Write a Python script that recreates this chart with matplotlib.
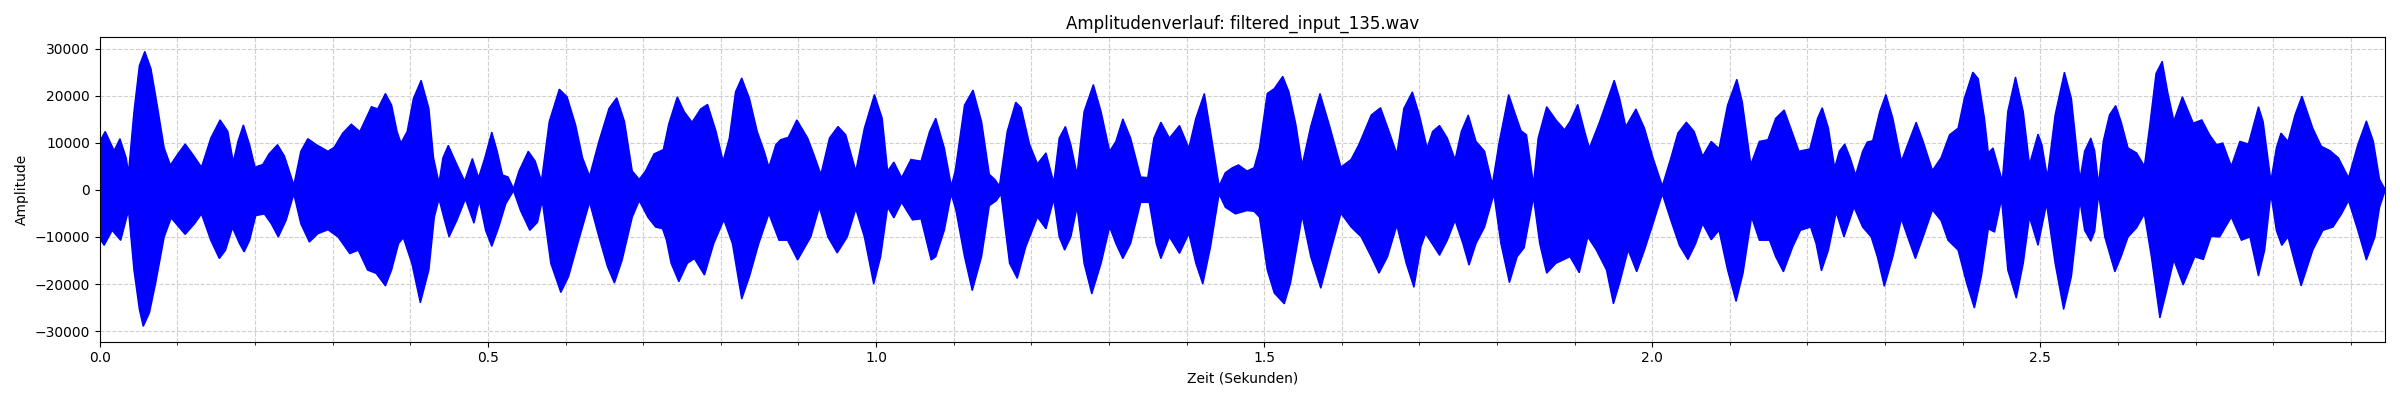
import matplotlib
matplotlib.use("Agg")
import matplotlib.pyplot as plt
import numpy as np
from matplotlib.ticker import MultipleLocator

# Envelope of the waveform (seconds, amplitude)
upper_time = [
    0.0, 0.007, 0.0185, 0.026, 0.034, 0.037, 0.044, 0.051, 0.058, 0.066, 0.074, 0.083, 0.091,
    0.1, 0.11, 0.12, 0.131, 0.143, 0.155, 0.165, 0.172, 0.178, 0.185, 0.193, 0.2, 0.21, 0.218,
    0.229, 0.238, 0.25, 0.259, 0.268, 0.279, 0.294, 0.302, 0.313, 0.324, 0.335, 0.35, 0.358,
    0.368, 0.376, 0.383, 0.388, 0.396, 0.404, 0.414, 0.424, 0.43, 0.437, 0.442, 0.449, 0.46,
    0.47, 0.48, 0.488, 0.496, 0.505, 0.512, 0.519, 0.526, 0.533, 0.54, 0.552, 0.561, 0.569,
    0.579, 0.592, 0.602, 0.613, 0.622, 0.631, 0.643, 0.656, 0.666, 0.676, 0.686, 0.695, 0.703,
    0.714, 0.726, 0.733, 0.744, 0.753, 0.763, 0.774, 0.783, 0.794, 0.803, 0.811, 0.819, 0.827,
    0.837, 0.847, 0.856, 0.862, 0.871, 0.877, 0.887, 0.898, 0.912, 0.92, 0.929, 0.94, 0.951,
    0.961, 0.974, 0.985, 0.998, 1.008, 1.015, 1.023, 1.033, 1.045, 1.058, 1.069, 1.077, 1.088,
    1.097, 1.102, 1.114, 1.125, 1.136, 1.146, 1.153, 1.159, 1.169, 1.18, 1.187, 1.198, 1.208,
    1.219, 1.229, 1.236, 1.244, 1.251, 1.259, 1.268, 1.28, 1.29, 1.301, 1.309, 1.318, 1.328,
    1.341, 1.35, 1.358, 1.367, 1.378, 1.391, 1.403, 1.412, 1.423, 1.433, 1.442, 1.45, 1.459,
    1.467, 1.478, 1.487, 1.494, 1.504, 1.513, 1.524, 1.532, 1.541, 1.549, 1.56, 1.572, 1.584,
    1.599, 1.612, 1.622, 1.638, 1.65, 1.661, 1.671, 1.68, 1.691, 1.7, 1.71, 1.717, 1.726,
    1.736, 1.746, 1.754, 1.763, 1.773, 1.784, 1.794, 1.803, 1.815, 1.824, 1.831, 1.838, 1.847,
    1.853, 1.864, 1.876, 1.887, 1.894, 1.904, 1.913, 1.919, 1.932, 1.951, 1.958, 1.966, 1.979,
    1.99, 2.001, 2.013, 2.024, 2.033, 2.044, 2.054, 2.065, 2.076, 2.086, 2.097, 2.109, 2.116,
    2.127, 2.138, 2.149, 2.159, 2.17, 2.183, 2.189, 2.203, 2.213, 2.219, 2.227, 2.235, 2.241,
    2.248, 2.255, 2.262, 2.271, 2.277, 2.284, 2.293, 2.301, 2.31, 2.321, 2.329, 2.34, 2.349,
    2.361, 2.372, 2.383, 2.394, 2.402, 2.413, 2.42, 2.428, 2.433, 2.439, 2.445, 2.451, 2.458,
    2.468, 2.478, 2.486, 2.497, 2.502, 2.509, 2.519, 2.531, 2.54, 2.551, 2.557, 2.565, 2.57,
    2.575, 2.581, 2.589, 2.597, 2.604, 2.613, 2.624, 2.634, 2.641, 2.649, 2.657, 2.664, 2.672,
    2.683, 2.697, 2.708, 2.718, 2.727, 2.735, 2.746, 2.757, 2.768, 2.781, 2.787, 2.797, 2.804,
    2.81, 2.819, 2.828, 2.837, 2.851, 2.862, 2.873, 2.884, 2.897, 2.909, 2.92, 2.929, 2.937,
    2.944,
]
upper_amp = [
    10300, 12400, 8340, 10870, 6800, 3650, 16600, 26400, 29400, 25700, 18000, 8900, 5260,
    7500, 9740, 7500, 4840, 11000, 14860, 12400, 5960, 10300, 13800, 9600, 4840, 5400, 7640,
    9600, 7150, 1050, 8200, 10870, 9600, 8200, 9040, 12060, 13950, 12400, 17660, 17200,
    20470, 18000, 12400, 9950, 12400, 19400, 23270, 17300, 6800, 1540, 6800, 9460, 5400,
    1890, 6660, 2590, 6800, 12270, 8200, 3150, 2730, 300, 4000, 8200, 6100, 1890,
    14510, 21380, 19770, 13800, 6800, 2940, 10300, 17300, 19560, 14510, 4000, 2240, 4000,
    7640, 8550, 14000, 19770, 16600, 14370, 17170, 18150, 12400, 6100, 11000, 20800, 23760,
    19400, 12400, 8200, 4840, 9600, 10650, 11150, 14860, 11000, 7500, 3300, 11000, 13460,
    11700, 4000, 13100, 20260, 15200, 4000, 5900, 2600, 6450, 6100, 12400, 15200, 8900,
    840, 4000, 18000, 21200, 14500, 3300, 2240, 840, 12400, 18600, 17450, 9600, 5540,
    7850, 1540, 11000, 13460, 9600, 3300, 16600, 22360, 16600, 8200, 10300, 15070, 11000,
    2730, 2600, 11000, 14370, 11000, 13670, 8900, 15200, 20470, 10300, 840, 3650, 4700,
    5300, 4000, 4700, 8900, 20470, 21500, 24100, 20800, 13800, 5260, 13460, 20470, 13800,
    4840, 6450, 9600, 15900, 17450, 12400, 7640, 17300, 20800, 15900, 8900, 12400, 13670,
    11000, 6450, 12400, 15900, 10300, 8200, 1200, 10300, 20260, 15900, 12550, 11700, 1200,
    11000, 17660, 14860, 12760, 14500, 18150, 12400, 8900, 14370, 23270, 19400, 13460, 17170,
    13100, 6800, 840, 6800, 12060, 14370, 12400, 7150, 10300, 8760, 18000, 23480, 18700,
    5400, 10300, 10650, 15200, 16960, 11000, 8200, 8700, 15200, 17450, 13100, 4700, 8200,
    9740, 6800, 3150, 8200, 10160, 10440, 16600, 20260, 15200, 6100, 9600, 14370, 10300,
    4140, 6800, 11700, 13100, 19400, 25000, 23600, 15200, 7850, 8900, 5400, 1900, 16600,
    23970, 16600, 5400, 11850, 9600, 2730, 15900, 25000, 19400, 2240, 8200, 11000, 8300,
    1200, 10300, 15900, 17900, 14500, 8900, 7850, 5050, 13800, 24700, 27300, 20800, 14650,
    19770, 14160, 14860, 11700, 9600, 9950, 5050, 10300, 9740, 17660, 14510, 1890, 8900,
    12060, 10300, 15900, 19900, 13100, 9250, 8340, 6800, 2600, 9600, 14650, 10300, 2240,
    140,
]

lower_time = [
    0.0, 0.0056, 0.016, 0.027, 0.037, 0.044, 0.051, 0.056, 0.064, 0.072, 0.083, 0.092,
    0.102, 0.11, 0.122, 0.131, 0.143, 0.154, 0.162, 0.171, 0.18, 0.186, 0.193, 0.201, 0.212,
    0.221, 0.23, 0.24, 0.25, 0.259, 0.27, 0.281, 0.294, 0.307, 0.322, 0.333, 0.345, 0.356,
    0.368, 0.376, 0.385, 0.391, 0.402, 0.413, 0.424, 0.431, 0.437, 0.443, 0.45, 0.46, 0.471,
    0.482, 0.489, 0.497, 0.505, 0.514, 0.523, 0.533, 0.542, 0.554, 0.564, 0.57, 0.581, 0.594,
    0.604, 0.617, 0.631, 0.643, 0.654, 0.663, 0.673, 0.686, 0.695, 0.706, 0.716, 0.725, 0.73,
    0.736, 0.746, 0.757, 0.766, 0.779, 0.791, 0.804, 0.815, 0.827, 0.837, 0.849, 0.862, 0.875,
    0.886, 0.899, 0.916, 0.927, 0.938, 0.95, 0.963, 0.974, 0.985, 0.997, 1.006, 1.015, 1.023,
    1.033, 1.047, 1.058, 1.071, 1.077, 1.088, 1.097, 1.103, 1.114, 1.124, 1.136, 1.146, 1.155,
    1.161, 1.172, 1.182, 1.193, 1.208, 1.219, 1.229, 1.236, 1.243, 1.251, 1.259, 1.268, 1.278,
    1.29, 1.301, 1.309, 1.318, 1.328, 1.341, 1.352, 1.361, 1.367, 1.378, 1.391, 1.403, 1.412,
    1.421, 1.431, 1.442, 1.45, 1.463, 1.478, 1.487, 1.494, 1.504, 1.513, 1.526, 1.534, 1.543,
    1.549, 1.56, 1.573, 1.586, 1.599, 1.612, 1.625, 1.638, 1.648, 1.659, 1.671, 1.683, 1.693,
    1.702, 1.708, 1.719, 1.726, 1.736, 1.746, 1.756, 1.764, 1.773, 1.784, 1.796, 1.805, 1.816,
    1.826, 1.835, 1.847, 1.855, 1.864, 1.876, 1.894, 1.906, 1.917, 1.928, 1.941, 1.95, 1.958,
    1.969, 1.98, 1.99, 2.001, 2.013, 2.024, 2.035, 2.046, 2.056, 2.065, 2.076, 2.086, 2.097,
    2.108, 2.117, 2.128, 2.138, 2.151, 2.159, 2.169, 2.181, 2.191, 2.204, 2.211, 2.218, 2.227,
    2.237, 2.247, 2.26, 2.271, 2.282, 2.29, 2.299, 2.31, 2.321, 2.329, 2.339, 2.349, 2.361,
    2.372, 2.381, 2.394, 2.405, 2.415, 2.424, 2.433, 2.441, 2.45, 2.458, 2.469, 2.478, 2.486,
    2.497, 2.508, 2.519, 2.53, 2.54, 2.551, 2.557, 2.565, 2.57, 2.575, 2.583, 2.596, 2.604,
    2.613, 2.624, 2.634, 2.643, 2.654, 2.662, 2.672, 2.684, 2.699, 2.71, 2.72, 2.731, 2.746,
    2.759, 2.77, 2.781, 2.789, 2.797, 2.804, 2.811, 2.819, 2.828, 2.836, 2.851, 2.864, 2.877,
    2.888, 2.897, 2.909, 2.92, 2.931, 2.937, 2.944,
]
lower_amp = [
    -10370, -11780, -8620, -10730, -4400, -17000, -25400, -29000, -26100, -19800, -10000, -5960,
    -7920, -9460, -7220, -5120, -10730, -14580, -12830, -8060, -11430, -13180, -10730, -5470, -5120,
    -7220, -10020, -6520, -910, -7220, -11080, -9320, -8480, -10020, -13530, -12830, -17030, -17740,
    -20400, -17000, -11400, -10160, -15600, -24000, -17000, -5800, -1960, -5800, -10000, -6500, -1960,
    -7080, -2310, -8600, -12000, -7900, -3000, -200, -4400, -8600, -6870, -2310, -15600, -21800,
    -18400, -10700, -2660, -10000, -16300, -19800, -14900, -5800, -2310, -5800, -7900, -8270, -10700,
    -15600, -19500, -15600, -14600, -18100, -11400, -6380, -11400, -23200, -18400, -11400, -5100, -10700,
    -10700, -14900, -10000, -3700, -10000, -13400, -10000, -4070, -10000, -20000, -14200, -3700, -5960,
    -2660, -6380, -6170, -14900, -14200, -8600, -900, -4400, -14200, -21400, -14200, -3360, -2310,
    -900, -15600, -18800, -12100, -5800, -8270, -1960, -10000, -12800, -10000, -3700, -15600, -22100,
    -15600, -7900, -11400, -14600, -11400, -2660, -2660, -11400, -14600, -10000, -13500, -9300, -15600,
    -20000, -12100, -900, -3700, -5100, -4400, -4560, -5800, -17000, -21900, -24200, -19800, -11400,
    -5470, -14200, -20900, -12800, -4980, -7900, -10000, -14200, -17700, -14200, -7570, -15600, -20700,
    -12100, -9300, -12100, -13900, -10700, -6520, -11400, -16000, -11400, -7900, -900, -11400, -19700,
    -14200, -12300, -1600, -11400, -17700, -15600, -14200, -17600, -10000, -12800, -17000, -24200, -19800,
    -12800, -17400, -12800, -7200, -900, -6500, -11800, -14800, -11400, -7200, -10600, -8600, -17000,
    -23700, -17700, -5800, -10700, -10700, -14200, -17400, -12100, -8600, -7900, -11400, -17200, -12800,
    -4770, -10000, -3700, -7900, -10000, -14200, -20500, -14200, -6170, -10000, -14600, -10000, -4280,
    -6500, -10700, -12800, -19800, -25100, -18400, -8270, -8970, -1960, -17000, -23000, -15600, -5800,
    -11800, -3000, -15600, -25400, -18400, -2300, -8600, -10900, -8800, -900, -10000, -17400, -14200,
    -10000, -8060, -5120, -14200, -27200, -21900, -14900, -20200, -14200, -14800, -9880, -10000, -5800,
    -10700, -10000, -18300, -12800, -900, -8600, -11800, -10000, -15600, -20400, -12800, -8600, -7900,
    -5120, -2300, -8600, -14900, -10000, -3700, -210,
]

file_name = "filtered_input_135.wav"


def main():
    fig, ax = plt.subplots(figsize=(24, 4), dpi=100)

    # upper envelope forward, lower envelope backward -> one closed outline
    outline_t = np.concatenate([upper_time, lower_time[::-1]])
    outline_a = np.concatenate([upper_amp, lower_amp[::-1]])
    ax.fill(outline_t, outline_a, color="blue", linewidth=1.0, zorder=2)

    ax.set_xlim(0, upper_time[-1])
    ax.set_ylim(-32250, 32390)
    ax.xaxis.set_minor_locator(MultipleLocator(0.1))
    ax.grid(True, which="both", linestyle="--", alpha=0.6)
    ax.set_axisbelow(True)

    ax.set_title(f"Amplitudenverlauf: {file_name}")
    ax.set_xlabel("Zeit (Sekunden)")
    ax.set_ylabel("Amplitude")
    fig.tight_layout()
    fig.savefig("out.png", dpi=100)
    plt.close(fig)


if __name__ == "__main__":
    main()
